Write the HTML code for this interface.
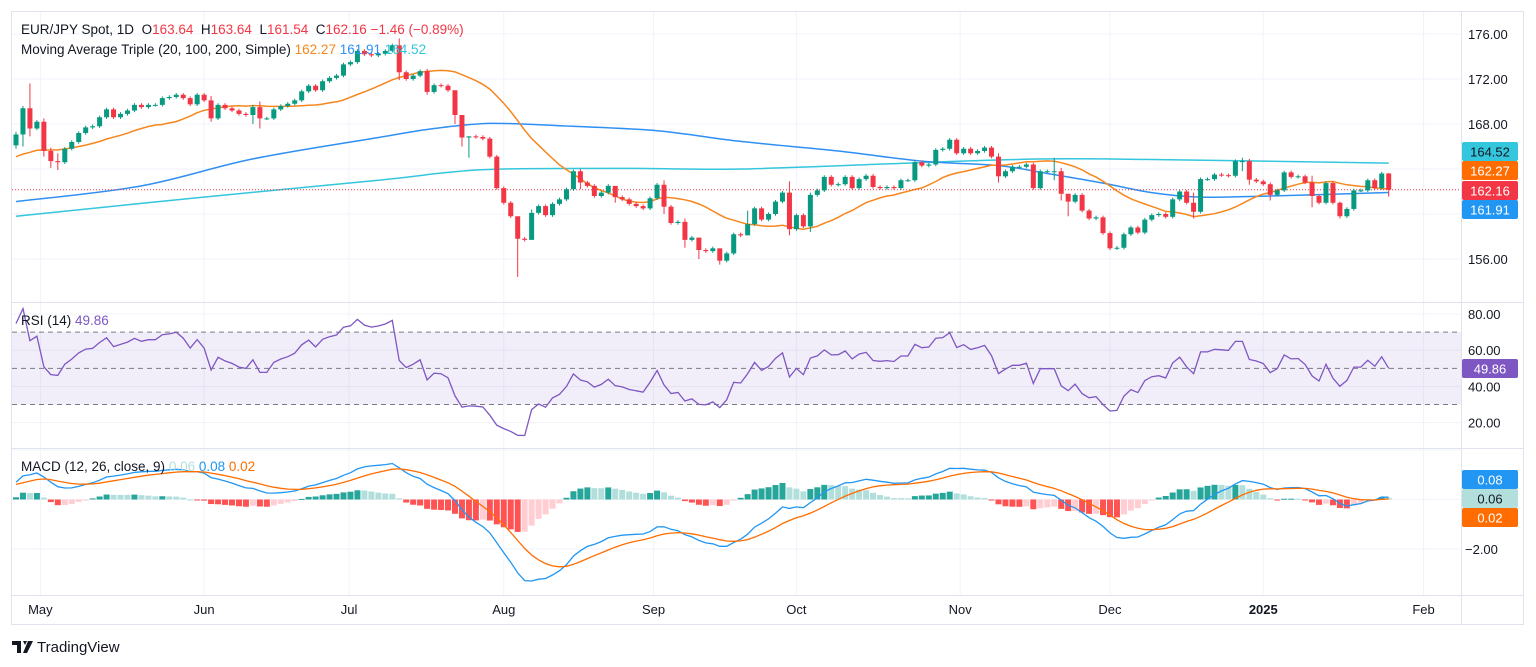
<!DOCTYPE html>
<html><head><meta charset="utf-8">
<style>
html,body{margin:0;padding:0;background:#fff;width:1536px;height:667px;overflow:hidden;font-family:"Liberation Sans",sans-serif;}
svg{display:block}
</style></head>
<body>
<svg id="chart" width="1536" height="667" viewBox="0 0 1536 667" xmlns="http://www.w3.org/2000/svg"></svg>
<script>
// ---- data ----
const preCloses = [161.2,161.5,161.8,162.0,161.7,162.2,162.5,162.8,163.0,162.7,163.1,163.4,163.6,163.3,163.8,164.0,164.3,164.5,164.2,164.6,164.9,164.7,164.4,164.8,165.0,164.7,164.5,164.1,164.4,164.8,165.1,164.9,165.2,164.9,165.3,165.6,165.4,165.1,165.8,166.1];
const closes = [167.07,169.4,167.6,168.2,165.6,164.7,164.6,165.8,166.4,167.2,
167.7,167.8,168.6,169.3,168.6,168.9,169.2,169.7,169.5,169.7,
169.7,170.3,170.4,170.6,170.3,169.75,170.6,170.1,168.5,169.7,
169.4,169.2,168.9,168.8,169.5,168.5,168.5,169.3,169.6,169.8,
170.1,170.9,171.4,171.0,171.8,172.1,172.3,173.3,173.5,174.5,
174.2,174.1,174.24,174.5,175.0,172.6,172.0,172.3,172.7,170.85,
171.45,171.4,171.0,168.8,166.8,166.9,166.85,166.7,165.1,162.3,
161.0,159.8,157.8,157.7,160.1,160.7,159.9,160.9,161.3,162.2,
163.8,162.8,162.5,161.6,161.9,162.5,161.5,161.3,160.9,160.7,
160.5,161.4,162.6,160.65,159.2,159.3,157.7,157.9,156.8,156.7,
156.95,155.85,156.5,158.2,158.1,159.1,160.5,159.5,160.0,161.1,
161.9,158.65,159.9,158.9,161.7,162.1,163.3,162.6,162.65,163.3,
162.3,163.1,163.4,162.4,162.3,162.4,162.3,163.0,163.0,164.6,
164.3,164.4,165.7,165.8,166.6,165.4,165.8,165.4,165.6,165.9,
165.1,163.35,163.8,164.2,164.2,164.4,162.3,163.8,163.8,163.8,
161.8,161.1,161.7,160.3,159.6,159.7,158.3,156.95,157.0,158.2,
158.8,158.35,159.5,159.9,160.0,159.75,161.3,162.0,161.0,160.2,
163.1,163.1,163.5,163.45,163.4,164.7,164.7,163.05,162.9,162.65,
161.7,162.1,163.7,163.3,163.35,162.8,161.6,161.0,162.75,161.0,
159.8,160.45,162.1,162.1,163.0,162.3,163.6,162.16];
const firstOpen = 166.1;
const wickIdx = [0,1,2,4,5,6,28,34,35,55,59,63,64,65,72,74,81,86,93,96,98,101,105,111,114,141,149,150,151,169,176,177,180,186,190,197];
const wickHigh = [167.3,169.6,171.6,168.5,165.9,165.4,170.5,169.7,170.0,175.6,172.9,169.0,168.3,166.9,158.0,160.4,164.0,162.3,163.0,159.6,157.3,156.9,160.3,162.9,161.9,165.4,165.0,164.1,161.6,161.9,165.0,164.9,162.8,163.4,161.1,163.64];
const wickLow = [165.8,166.0,166.9,165.1,164.1,163.9,168.2,168.0,167.6,171.9,170.6,168.0,166.0,165.0,154.4,157.7,162.2,161.0,160.0,157.0,156.0,155.5,158.7,158.1,158.4,162.8,163.0,161.2,159.8,159.6,163.8,162.6,161.2,160.6,159.6,161.54];
const ma100Idx = [0,18,34,52,60,68,78,92,104,118,130,141,148,156,163,170,180,197];
const ma100Val = [161.1,162.5,164.9,166.8,167.6,168.05,167.85,167.4,166.45,165.6,164.7,164.3,163.6,162.75,161.9,161.5,161.6,161.91];
const ma200Idx = [0,26,52,62,70,88,104,127,141,156,197];
const ma200Val = [159.8,161.45,163.0,163.7,164.0,164.05,164.0,164.5,164.8,164.9,164.52];
const priceTicks = [156,160,164,168,172,176];
const rsiTicks = [20,40,60,80];
const macdTicks = [-2,0,2];
const monthLabels = ["May","Jun","Jul","Aug","Sep","Oct","Nov","Dec","2025","Feb"];
const monthIdx = [3.5,27,47.8,70,91.5,112,135.5,157,179,202];

// ---- geometry ----
const L=12, R=1461, N=closes.length;
const xOf = i => 16 + i*(1372.7/197);
const yP = p => 34 + (176-p)*11.25;
const yR = v => 314 + (80-v)*1.811;
const yM = v => 499.5 - v*24.75;
const svg = document.getElementById('chart');
const NS='http://www.w3.org/2000/svg';
function mk(tag, attrs, parent){const e=document.createElementNS(NS,tag);for(const k in attrs)e.setAttribute(k,attrs[k]);(parent||svg).appendChild(e);return e;}
function spline(pts){let d='M'+pts[0][0].toFixed(1)+','+pts[0][1].toFixed(1);
  for(let i=0;i<pts.length-1;i++){const p0=pts[Math.max(0,i-1)],p1=pts[i],p2=pts[i+1],p3=pts[Math.min(pts.length-1,i+2)];
    const c1=[p1[0]+(p2[0]-p0[0])/6,p1[1]+(p2[1]-p0[1])/6],c2=[p2[0]-(p3[0]-p1[0])/6,p2[1]-(p3[1]-p1[1])/6];
    d+='C'+c1[0].toFixed(1)+','+c1[1].toFixed(1)+' '+c2[0].toFixed(1)+','+c2[1].toFixed(1)+' '+p2[0].toFixed(1)+','+p2[1].toFixed(1);}
  return d;}

// ---- indicators ----
const all = preCloses.concat(closes);
const P = preCloses.length;
function sma(arr,n,i){let s=0,c=0;for(let k=Math.max(0,i-n+1);k<=i;k++){s+=arr[k];c++;}return s/c;}
function ema(arr,n){const a=2/(n+1);const out=[arr[0]];for(let i=1;i<arr.length;i++)out.push(a*arr[i]+(1-a)*out[i-1]);return out;}
const e12=ema(all,12), e26=ema(all,26);
const macd=all.map((v,i)=>e12[i]-e26[i]);
const sig=ema(macd,9);
let ag=0,al=0;const rsi=[50];
for(let i=1;i<all.length;i++){const d=all[i]-all[i-1];const g=Math.max(d,0),l=Math.max(-d,0);if(i<=14){ag+=g/14;al+=l/14;}else{ag=(ag*13+g)/14;al=(al*13+l)/14;}rsi.push(al===0?100:100-100/(1+ag/al));}

// ---- frame ----
mk('rect',{x:0,y:0,width:1536,height:667,fill:'#fff'});
monthIdx.forEach(mi=>{const x=xOf(mi);[[12,302],[303,448],[449,595]].forEach(s=>mk('line',{x1:x,x2:x,y1:s[0],y2:s[1],stroke:'#f0f3fa','stroke-width':1}));});
priceTicks.forEach(t=>mk('line',{x1:L,x2:R,y1:yP(t),y2:yP(t),stroke:'#f0f3fa'}));
rsiTicks.forEach(t=>mk('line',{x1:L,x2:R,y1:yR(t),y2:yR(t),stroke:'#f0f3fa'}));
macdTicks.forEach(t=>mk('line',{x1:L,x2:R,y1:yM(t),y2:yM(t),stroke:'#f0f3fa'}));
mk('rect',{x:11.5,y:11.5,width:1512,height:613,fill:'none',stroke:'#e0e3eb'});
mk('line',{x1:12,x2:1524,y1:302.5,y2:302.5,stroke:'#e0e3eb'});
mk('line',{x1:12,x2:1524,y1:448.5,y2:448.5,stroke:'#e0e3eb'});
mk('line',{x1:12,x2:1524,y1:595.5,y2:595.5,stroke:'#e0e3eb'});
mk('line',{x1:R+0.5,x2:R+0.5,y1:12,y2:625,stroke:'#e0e3eb'});

// ---- price pane ----
function lineFrom(idx,val,color,name){const pts=idx.map((k,j)=>[xOf(k),yP(val[j])]);const e=mk('path',{d:spline(pts),fill:'none',stroke:color,'stroke-width':1.5});

}
lineFrom(ma200Idx,ma200Val,'#33c6dc','ma200-line');
lineFrom(ma100Idx,ma100Val,'#2f8ff3','ma100-line');
const ma20pts=closes.map((c,i)=>xOf(i).toFixed(1)+','+yP(sma(all,20,i+P)).toFixed(1)).join(' ');
const m20=mk('polyline',{points:ma20pts,fill:'none',stroke:'#f7861c','stroke-width':1.5});


mk('line',{x1:L,x2:R,y1:yP(closes[N-1]),y2:yP(closes[N-1]),stroke:'#f23645','stroke-width':1,'stroke-dasharray':'1,2'});
const candles=mk('g',{});


for(let i=0;i<N;i++){
  const o=i===0?firstOpen:closes[i-1], c=closes[i];
  const up=c>=o, col=up?'#089981':'#f23645';
  const w=wickIdx.indexOf(i);
  const hi=w>=0?wickHigh[w]:Math.max(o,c)+0.15, lo=w>=0?wickLow[w]:Math.min(o,c)-0.15;
  const x=xOf(i);
  mk('line',{x1:x,x2:x,y1:yP(hi),y2:yP(lo),stroke:col,'stroke-width':1},candles);
  const yt=yP(Math.max(o,c)), yb=yP(Math.min(o,c));
  const r=mk('rect',{x:x-2.5,y:yt,width:5,height:Math.max(1,yb-yt),fill:col},candles);
  
  
}
// ---- RSI pane ----
mk('rect',{x:L,y:yR(70),width:R-L,height:yR(30)-yR(70),fill:'#7e57c2','fill-opacity':0.1});
[70,50,30].forEach(v=>mk('line',{x1:L,x2:R,y1:yR(v),y2:yR(v),stroke:'#787b86','stroke-dasharray':'5,4','stroke-width':1}));
const rsiPts=closes.map((c,i)=>xOf(i).toFixed(1)+','+yR(rsi[i+P]).toFixed(1)).join(' ');
const rl=mk('polyline',{points:rsiPts,fill:'none',stroke:'#7e57c2','stroke-width':1.3});


// ---- MACD pane ----
const hg=mk('g',{});


for(let i=0;i<N;i++){const h=macd[i+P]-sig[i+P], hp=macd[i+P-1]-sig[i+P-1];
  let col; if(h>=0) col = h>=hp?'#26a69a':'#b2dfdb'; else col = h<hp?'#ff5252':'#ffcdd2';
  const y0=yM(0), y1=yM(h);
  mk('rect',{x:xOf(i)-3,y:Math.min(y0,y1),width:6,height:Math.max(1,Math.abs(y1-y0)),fill:col},hg);}
const mp=mk('polyline',{points:closes.map((c,i)=>xOf(i).toFixed(1)+','+yM(macd[i+P]).toFixed(1)).join(' '),fill:'none',stroke:'#2196f3','stroke-width':1.3});


const sp=mk('polyline',{points:closes.map((c,i)=>xOf(i).toFixed(1)+','+yM(sig[i+P]).toFixed(1)).join(' '),fill:'none',stroke:'#ff6d00','stroke-width':1.3});



// ---- axes labels ----
function txt(x,y,s,attrs,name){const e=mk('text',Object.assign({x:x,y:y,'font-size':13,fill:'#131722','font-family':'Liberation Sans, sans-serif'},attrs||{}));e.textContent=s;

return e;}
priceTicks.forEach(t=>txt(1468,yP(t)+5,t.toFixed(2),{},'price-tick'));
rsiTicks.forEach(t=>txt(1468,yR(t)+5,t.toFixed(2),{},'rsi-tick'));
txt(1465,yM(-2)+5,'\u22122.00',{},'macd-tick');
monthLabels.forEach((m,k)=>txt(xOf(monthIdx[k]),614,m,{'text-anchor':'middle','font-weight':m==='2025'?'bold':'normal'},'month-label'));
function badge(y,bg,fg,s,name){mk('rect',{x:1462,y:y,width:56,height:19,fill:bg,rx:2});txt(1490,y+14.5,s,{'text-anchor':'middle',fill:fg},name);}
badge(142,'#33c6dc','#131722','164.52','ma200-badge');
badge(161,'#ff6d00','#fff','162.27','ma20-badge');
badge(181,'#f23645','#fff','162.16','price-badge');
badge(200,'#2196f3','#fff','161.91','ma100-badge');
badge(359,'#7e57c2','#fff','49.86','rsi-badge');
badge(470,'#2196f3','#fff','0.08','macd-badge');
badge(489,'#b2dfdb','#131722','0.06','hist-badge');
badge(508,'#ff6d00','#fff','0.02','signal-badge');

// ---- legends ----
const h1=txt(21,34,'',{'font-size':13.5},'price-legend');
h1.innerHTML='EUR/JPY Spot, 1D  <tspan>O</tspan><tspan fill="#f23645">163.64</tspan>  H<tspan fill="#f23645">163.64</tspan>  L<tspan fill="#f23645">161.54</tspan>  C<tspan fill="#f23645">162.16</tspan> <tspan fill="#f23645">\u22121.46 (\u22120.89%)</tspan>';
h1.style.whiteSpace='pre';
const h2=txt(21,54,'',{'font-size':13.5},'ma-legend');
h2.innerHTML='Moving Average Triple (20, 100, 200, Simple) <tspan fill="#f7861c">162.27</tspan> <tspan fill="#2f8ff3">161.91</tspan> <tspan fill="#33c6dc">164.52</tspan>';
const h3=txt(21,325,'',{'font-size':13.5},'rsi-legend');
h3.innerHTML='RSI (14) <tspan fill="#7e57c2">49.86</tspan>';
const h4=txt(21,471,'',{'font-size':13.5},'macd-legend');
h4.innerHTML='MACD (12, 26, close, 9) <tspan fill="#b2dfdb">0.06</tspan> <tspan fill="#2196f3">0.08</tspan> <tspan fill="#ff6d00">0.02</tspan>';
const lg=mk('g',{});


mk('path',{d:'M12 641h9v12h-4v-8h-5z M23 641h4l-2 4z M28 641h5l-6 12h-4z',fill:'#131722'},lg);
txt(37,652,'TradingView',{'font-size':15},'tradingview-wordmark');
</script>
</body></html>
